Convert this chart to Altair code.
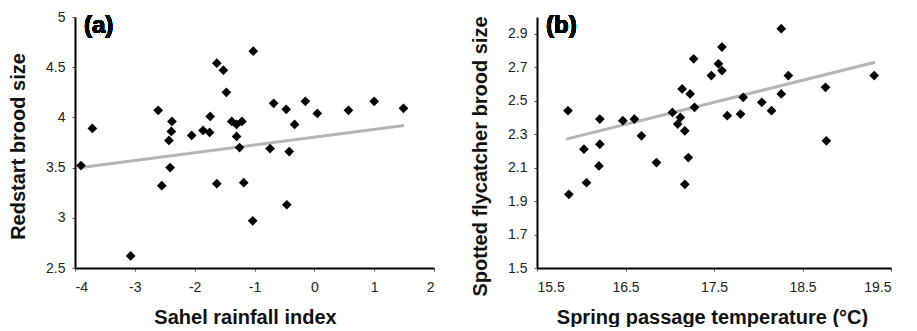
import altair as alt
import pandas as pd

# Panel (a): Sahel rainfall index vs Redstart brood size
a_x = [-3.90, -3.71, -3.07, -2.61, -2.55, -2.38, -2.39, -2.43, -2.41, -2.05, -1.86, -1.74,
       -1.75, -1.63, -1.63, -1.52, -1.47, -1.38, -1.30, -1.21, -1.30, -1.25, -1.18, -1.02,
       -1.03, -0.74, -0.68, -0.47, -0.42, -0.46, -0.33, -0.15, 0.05, 0.57, 1.00, 1.49]
a_y = [3.52, 3.89, 2.62, 4.07, 3.32, 3.96, 3.86, 3.77, 3.50, 3.82, 3.87, 4.01,
       3.85, 3.34, 4.54, 4.47, 4.25, 3.96, 3.93, 3.96, 3.81, 3.70, 3.35, 4.66,
       2.97, 3.69, 4.14, 4.08, 3.66, 3.13, 3.93, 4.16, 4.04, 4.07, 4.16, 4.09]
a_fit_x = [-3.90, 1.50]
a_fit_y = [3.50, 3.92]
a_xticks = [-4, -3, -2, -1, 0, 1, 2]
a_yticks = [2.5, 3, 3.5, 4, 4.5, 5]

# Panel (b): Spring passage temperature vs Spotted flycatcher brood size
b_x = [15.85, 15.86, 16.03, 16.06, 16.21, 16.21, 16.20, 16.47, 16.60, 16.68, 16.85, 17.03,
       17.09, 17.12, 17.14, 17.17, 17.17, 17.21, 17.23, 17.27, 17.28, 17.47, 17.55, 17.59,
       17.59, 17.65, 17.80, 17.83, 18.04, 18.15, 18.26, 18.26, 18.34, 18.76, 18.77, 19.31]
b_y = [2.44, 1.94, 2.21, 2.01, 2.39, 2.24, 2.11, 2.38, 2.39, 2.29, 2.13, 2.43,
       2.36, 2.40, 2.57, 2.32, 2.00, 2.16, 2.54, 2.75, 2.46, 2.65, 2.72, 2.82,
       2.68, 2.41, 2.42, 2.52, 2.49, 2.44, 2.93, 2.54, 2.65, 2.58, 2.26, 2.65]
b_fit_x = [15.83, 19.32]
b_fit_y = [2.27, 2.73]
b_xticks = [15.5, 16.5, 17.5, 18.5, 19.5]
b_yticks = [1.5, 1.7, 1.9, 2.1, 2.3, 2.5, 2.7, 2.9]

FONT = "Liberation Sans"


def panel(xs, ys, fx, fy, xdom, ydom, xticks, yticks, xtitle, ytitle,
          xexpr, yexpr, label, width, xtitle_x, ytitle_y):
    pts = pd.DataFrame({"x": xs, "y": ys})
    fit = pd.DataFrame({"x": fx, "y": fy})
    X = alt.X("x:Q", scale=alt.Scale(domain=xdom, nice=False, zero=False),
              axis=alt.Axis(values=xticks, title=xtitle, labelExpr=xexpr,
                            labelPadding=9, titlePadding=13, titleX=xtitle_x))
    Y = alt.Y("y:Q", scale=alt.Scale(domain=ydom, nice=False, zero=False),
              axis=alt.Axis(values=yticks, title=ytitle, labelExpr=yexpr,
                            labelPadding=7, titlePadding=17, titleY=ytitle_y))
    line = alt.Chart(fit).mark_line(color="#b5b5b5", strokeWidth=3).encode(x=X, y=Y)
    points = alt.Chart(pts).mark_point(shape="diamond", filled=True, color="black",
                                       size=95, opacity=1).encode(x=X, y=Y)
    text = alt.Chart(pts).mark_text(text=label, font=FONT, fontSize=24,
                                    fontWeight="bold", align="left",
                                    baseline="middle", color="black").encode(
        x=alt.value(9), y=alt.value(9))
    return alt.layer(line, points, text).properties(width=width, height=251)


pa = panel(a_x, a_y, a_fit_x, a_fit_y, [-4, 2], [2.5, 5], a_xticks, a_yticks,
           "Sahel rainfall index", "Redstart brood size",
           "'' + datum.value", "'' + datum.value", "(a)", 359, 170, 129)
pb = panel(b_x, b_y, b_fit_x, b_fit_y, [15.5, 19.5], [1.5, 3.0], b_xticks, b_yticks,
           "Spring passage temperature (°C)", "Spotted flycatcher brood size",
           "format(datum.value, '.1f')", "format(datum.value, '.1f')", "(b)", 354, 175, 139)

chart = alt.hconcat(pa, pb, spacing=35).properties(
    padding={"left": 0, "top": 2, "right": 0, "bottom": 0}
).configure_view(stroke=None).configure_axis(
    grid=False, domainColor="black", domainWidth=2, tickColor="#555", tickWidth=1,
    tickSize=3, labelFont=FONT, labelFontSize=14, labelColor="#222",
    titleFont=FONT, titleFontSize=20, titleFontWeight="bold", titleColor="#111"
)

chart.save("out.html", embed_options={"renderer": "svg", "actions": False})
